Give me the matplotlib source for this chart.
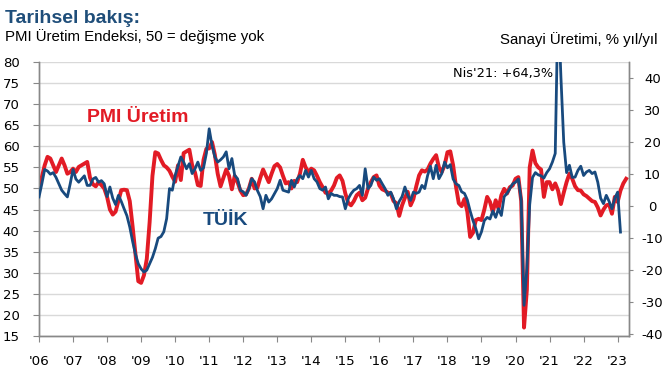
import matplotlib
matplotlib.use('Agg')
import matplotlib.pyplot as plt
import numpy as np

plt.rcParams['axes.unicode_minus'] = False
plt.rcParams['font.family'] = ['DejaVu Sans']

# Year tick labels (one tick every 12 months, Jan 2006 ... Jan 2023)
years = ["'06", "'07", "'08", "'09", "'10", "'11", "'12", "'13", "'14",
         "'15", "'16", "'17", "'18", "'19", "'20", "'21", "'22", "'23"]

# PMI output index, monthly, Jan 2006 - Apr 2023 (left axis)
pmi_uretim = [
    51.0, 52.7, 55.5, 57.5, 57.1, 55.5, 53.9, 55.5, 57.1, 55.5, 53.5, 53.9,  # 2006
    54.7, 53.9, 55.1, 55.5, 55.9, 56.3, 52.5, 51.0, 50.5, 51.5, 50.8, 50.0,  # 2007
    48.0, 45.0, 43.8, 44.5, 47.0, 49.6, 49.7, 49.6, 47.0, 41.0, 34.5, 28.0,  # 2008
    27.6, 29.4, 33.3, 42.0, 53.0, 58.6, 58.3, 56.8, 55.5, 55.0, 54.2, 52.8,  # 2009
    51.6, 55.5, 52.0, 58.4, 58.8, 59.2, 55.5, 53.8, 50.8, 50.6, 56.8, 59.4,  # 2010
    59.5, 61.0, 58.0, 53.5, 50.5, 52.5, 54.5, 53.0, 49.8, 53.0, 51.5, 49.5,  # 2011
    48.4, 48.6, 50.0, 52.3, 50.0, 50.2, 52.5, 54.5, 53.0, 51.5, 53.5, 55.3,  # 2012
    55.8, 55.0, 53.0, 51.2, 51.5, 50.0, 51.8, 51.5, 53.5, 56.8, 55.0, 53.9,  # 2013
    54.7, 54.3, 53.0, 51.5, 50.3, 49.0, 48.8, 49.5, 50.7, 52.5, 53.1, 51.8,  # 2014
    48.8, 46.6, 46.0, 47.0, 48.4, 49.0, 47.2, 47.8, 50.0, 51.5, 52.7, 53.1,  # 2015
    50.7, 49.8, 49.5, 49.0, 48.8, 47.0, 46.5, 43.5, 46.0, 47.8, 49.2, 46.0,  # 2016
    47.5, 50.5, 53.1, 54.3, 54.0, 54.5, 55.9, 57.0, 57.9, 55.0, 53.9, 55.5,  # 2017
    58.6, 58.8, 55.5, 50.5, 46.5, 45.8, 47.5, 44.5, 38.5, 39.5, 42.5, 42.8,  # 2018
    42.5, 45.0, 48.0, 46.8, 44.4, 47.2, 45.2, 48.4, 49.9, 48.8, 50.3, 50.7,  # 2019
    52.3, 52.7, 47.0, 17.0, 26.0, 55.0, 59.0, 56.0, 55.0, 54.5, 48.0, 51.5,  # 2020
    51.5, 49.8, 51.2, 49.5, 46.3, 49.0, 51.5, 53.5, 52.3, 50.5, 49.6, 49.5,  # 2021
    48.6, 48.2, 47.6, 47.0, 46.8, 45.5, 43.6, 45.0, 46.0, 46.2, 44.0, 48.0,  # 2022
    46.8, 49.5, 51.2, 52.3,                                                  # 2023
]

# TUIK industrial production, % y/y, Jan 2006 - Feb 2023 (right axis)
tuik_sanayi = [
    2.9, 7.0, 11.5, 11.0, 10.0, 10.5, 9.0, 7.0, 5.0, 3.9, 2.9, 7.0,            # 2006
    11.5, 8.5, 7.5, 8.5, 9.5, 6.5, 6.5, 8.5, 9.0, 7.5, 8.0, 7.0,               # 2007
    3.0, 6.0, 2.5, 0.5, 3.4, 1.5, -0.8, -3.0, -6.5, -11.0, -15.0, -18.0,       # 2008
    -19.6, -20.6, -20.0, -18.0, -16.0, -13.3, -10.0, -9.5, -8.0, -3.9, 5.5, 5.0,  # 2009
    9.6, 12.5, 15.4, 13.8, 11.7, 13.3, 10.2, 11.7, 13.8, 11.2, 12.0, 16.5,     # 2010
    24.2, 19.0, 15.4, 13.8, 14.5, 15.4, 17.0, 11.7, 14.9, 9.6, 8.6, 5.0,       # 2011
    4.5, 3.4, 5.5, 8.6, 7.6, 4.9, 3.0, -0.8, 3.4, 1.3, 2.3, 3.9,               # 2012
    5.5, 8.1, 5.0, 4.7, 4.4, 8.1, 6.0, 8.5, 9.6, 8.6, 11.2, 9.1,               # 2013
    11.2, 8.6, 7.6, 5.5, 5.0, 6.0, 2.3, 4.0, 3.4, 3.4, 3.0, 2.9,               # 2014
    -0.8, 2.3, 3.9, 5.0, 5.5, 6.5, 3.4, 11.7, 5.5, 6.5, 9.1, 8.1,              # 2015
    8.6, 7.0, 5.5, 3.4, 4.4, 2.3, -0.8, 1.5, 3.0, 6.0, 3.4, 1.8,               # 2016
    4.4, 4.0, 4.4, 6.5, 5.5, 9.6, 12.5, 8.6, 12.8, 8.6, 10.2, 13.8,            # 2017
    12.0, 13.0, 8.5, 7.0, 6.5, 4.5, 4.0, 2.0, -1.5, -4.5, -7.0, -10.2,         # 2018
    -8.0, -4.5, -3.5, -4.0, -1.5, -3.5, -0.8, -2.9, 3.0, 4.0, 5.5, 7.0,        # 2019
    7.5, 8.5, 2.0, -31.0, -19.5, 0.5, 9.0, 10.5, 9.8, 9.5, 8.8, 10.5,          # 2020
    11.7, 13.8, 16.5, 64.3, 40.5, 20.0, 10.5, 12.8, 9.0, 9.1, 11.2, 12.5,      # 2021
    9.6, 10.7, 11.2, 10.2, 10.7, 7.5, 2.5, 0.8, 3.4, 1.5, -0.8, 2.5,           # 2022
    4.4, -8.1,                                                                 # 2023
]

red = '#E21B25'
blue = '#184A7E'
gray = '#888888'

m_pmi = np.arange(len(pmi_uretim))
m_tuik = np.arange(len(tuik_sanayi))

fig = plt.figure(figsize=(6.72, 3.72), dpi=100)
ax = fig.add_axes([39/672, 36/372, 589.7/672, 274/372])
ax2 = ax.twinx()

ax.plot(m_pmi, pmi_uretim, color=red, lw=2.8, zorder=3)
ax2.plot(m_tuik, tuik_sanayi, color=blue, lw=2.0, zorder=3)

ax.set_xlim(0, 207.9)
ax.set_ylim(15, 80)
ax2.set_ylim(-40.6, 45.1)
ax.set_yticks(np.arange(15, 81, 5))
ax2.set_yticks(np.arange(-40, 41, 10))
ax.set_xticks(np.arange(0, 12*len(years), 12))
ax.set_xticklabels(years)

ax.grid(axis='y', color='#d9d9d9', lw=1)
ax.set_axisbelow(True)

for a in (ax, ax2):
    a.spines['top'].set_visible(False)
    for s in ('left', 'right', 'bottom'):
        a.spines[s].set_color(gray)
        a.spines[s].set_linewidth(1)

ax.tick_params(axis='y', length=4, color=gray, pad=10, labelsize=9.5)
ax.tick_params(axis='x', length=4.5, color=gray, pad=9, labelsize=9.7)
ax2.tick_params(axis='y', length=3, color=gray, pad=14, labelsize=9.5)
for t in ax2.get_yticklabels():
    t.set_ha('center')

# series labels and annotation
ax.text(16.9, 66.8, 'PMI Üretim', color=red, fontsize=14, fontweight='bold',
        family='Liberation Sans', ha='left', va='center')
ax.text(57.8, 42.3, 'TÜİK', color=blue, fontsize=14, fontweight='bold',
        family='Liberation Sans', ha='left', va='center')
ax.text(145.9, 77.3, "Nis'21: +64,3%", fontsize=9.3, ha='left', va='center')

# titles
fig.text(5/672, 1 - 23/372, 'Tarihsel bakış:', color='#1F4E7A', fontsize=14,
         fontweight='bold', family='Liberation Sans', va='baseline')
fig.text(5/672, 1 - 41/372, 'PMI Üretim Endeksi, 50 = değişme yok',
         fontsize=10.8, family='Liberation Sans', va='baseline')
fig.text(658/672, 1 - 44/372, 'Sanayi Üretimi, % yıl/yıl', fontsize=10.8,
         family='Liberation Sans', ha='right', va='baseline')

fig.savefig('out.png', dpi=100)
